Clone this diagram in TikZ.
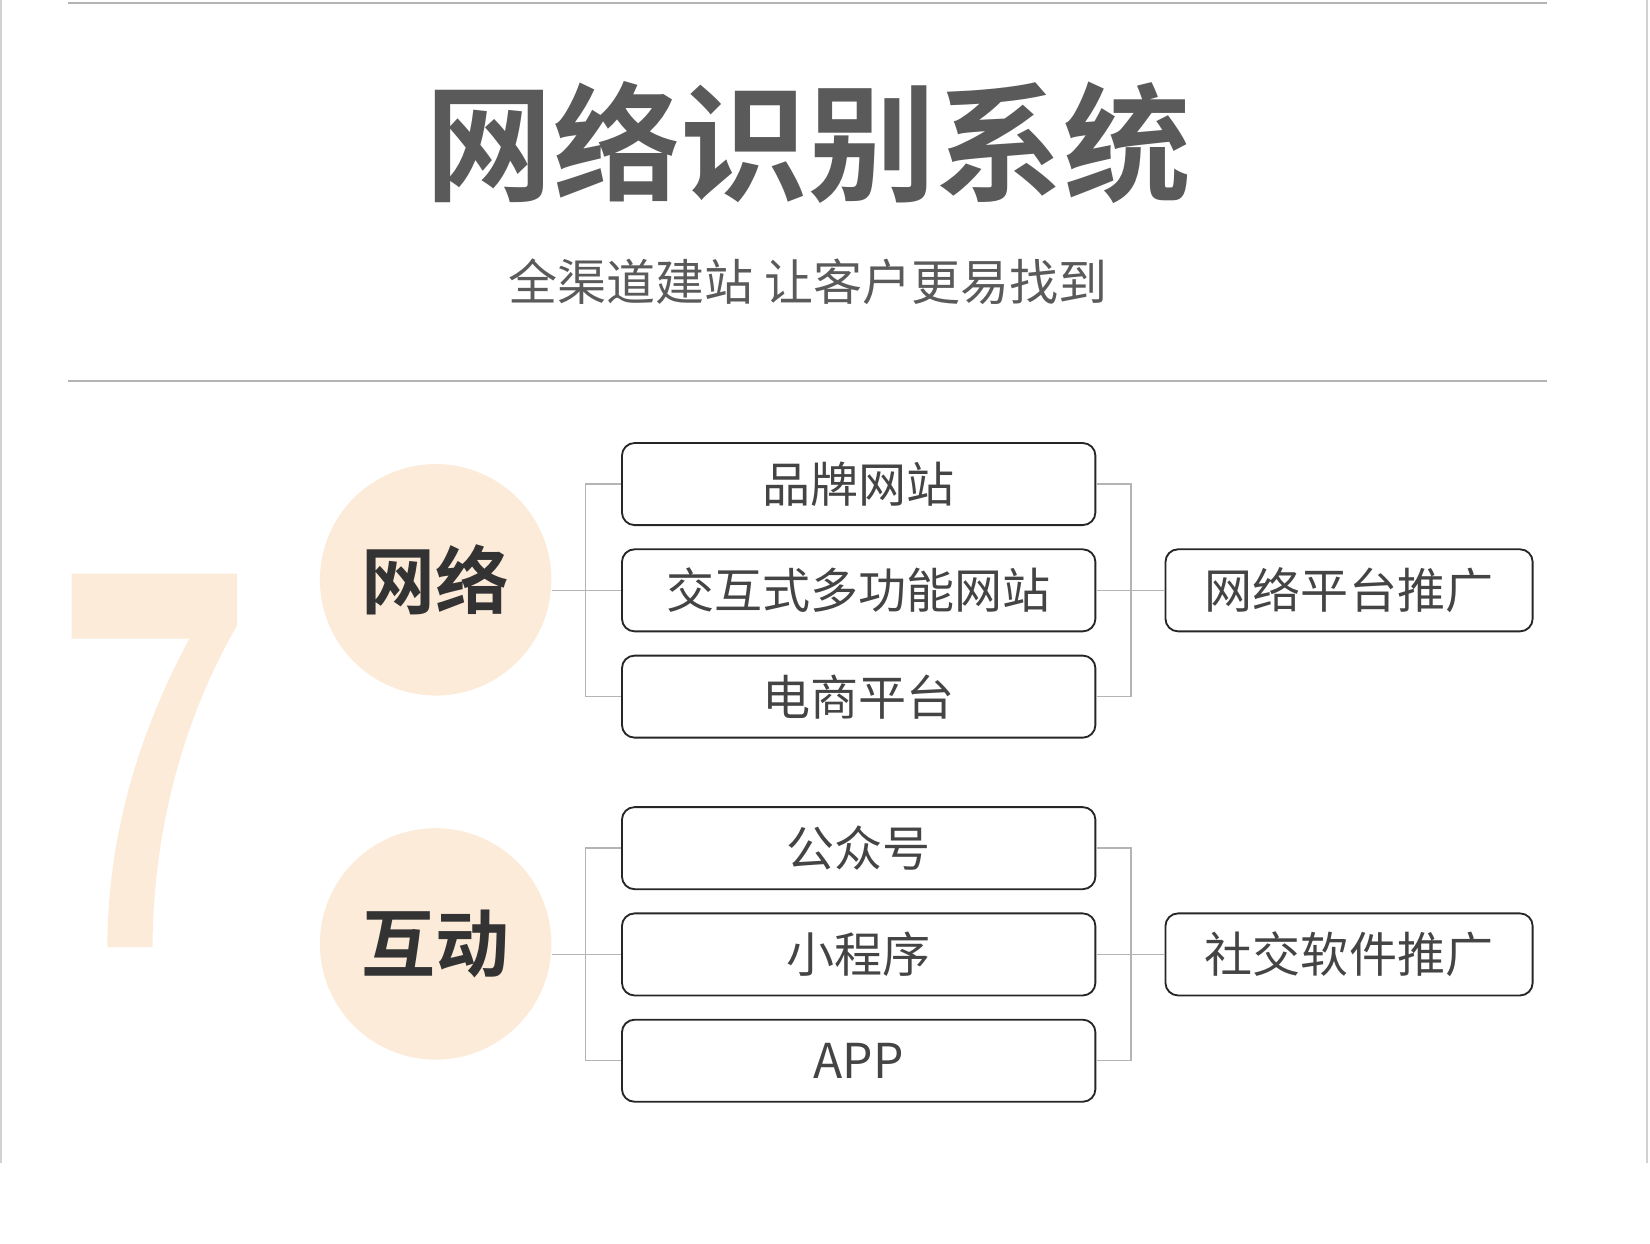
\documentclass[tikz,border=0pt]{standalone}
\usepackage{fontspec}
\setmainfont{Noto Sans CJK SC}
\newfontfamily\cjkbold{Noto Sans CJK SC Bold}
\usetikzlibrary{positioning}
\definecolor{beige}{HTML}{FCEBD9}
\definecolor{titlegray}{HTML}{5A5A5A}
\definecolor{textgray}{HTML}{444444}
\definecolor{linegray}{HTML}{B4B4B4}
\tikzset{
  item/.style={draw=black!85, line width=1pt, rounded corners=0.24cm, minimum width=9cm, minimum height=1.56cm,
    inner sep=0pt, font=\fontsize{26}{26}\selectfont, text=textgray},
  target/.style={item, minimum width=6.98cm},
  topic/.style={circle, fill=beige, minimum size=4.4cm, inner sep=0pt,
    font=\cjkbold\fontsize{40}{40}\selectfont, text=black!80},
  link/.style={draw=linegray, line width=0.8pt}
}
\begin{document}
\begin{tikzpicture}[x=0.02cm,y=-0.02cm]
\useasboundingbox (0,0) rectangle (1568,1182);
% frame and rules
\draw[linegray!60, line width=1pt] (1,0) -- (1,1105) (1565,0) -- (1565,1105);
\draw[linegray, line width=0.8pt] (65,3) -- (1470,3) (65,362) -- (1470,362);
\node[font=\cjkbold\fontsize{69}{69}\selectfont, text=titlegray] (title) at (768,135) {网络识别系统};
\node[font=\fontsize{26.5}{26.5}\selectfont, text=titlegray] (sub) at (768,268) {全渠道建站 让客户更易找到};
% big seven
\fill[beige] (68,545) -- (225,545) -- (225,595) .. controls (170,690) and (145,800) .. (145,900)
  -- (102,900) .. controls (102,790) and (135,690) .. (180,607) -- (68,607) -- cycle;
% group one
\node[topic] (net) at (414,551) {网络};
\node[item] (brand) at (816,460) {品牌网站};
\node[item] (inter) at (816,561) {交互式多功能网站};
\node[item] (shop) at (816,662) {电商平台};
\node[target] (netpro) at (1282,561) {网络平台推广};
% group two
\node[topic] (act) at (414,897) {互动};
\node[item] (pub) at (816,806) {公众号};
\node[item] (mini) at (816,907) {小程序};
\node[item] (app) at (816,1008) {APP};
\node[target] (socpro) at (1282,907) {社交软件推广};
% connectors
\path[link] (net.east |- inter.west) -- (inter.west);
\path[link] (brand.west) -- ++(-34,0) |- (shop.west);
\path[link] (brand.east) -- ++(33,0) |- (shop.east);
\path[link] (inter.east) -- (netpro.west);
\path[link] (act.east |- mini.west) -- (mini.west);
\path[link] (pub.west) -- ++(-34,0) |- (app.west);
\path[link] (pub.east) -- ++(33,0) |- (app.east);
\path[link] (mini.east) -- (socpro.west);
\end{tikzpicture}
\end{document}
